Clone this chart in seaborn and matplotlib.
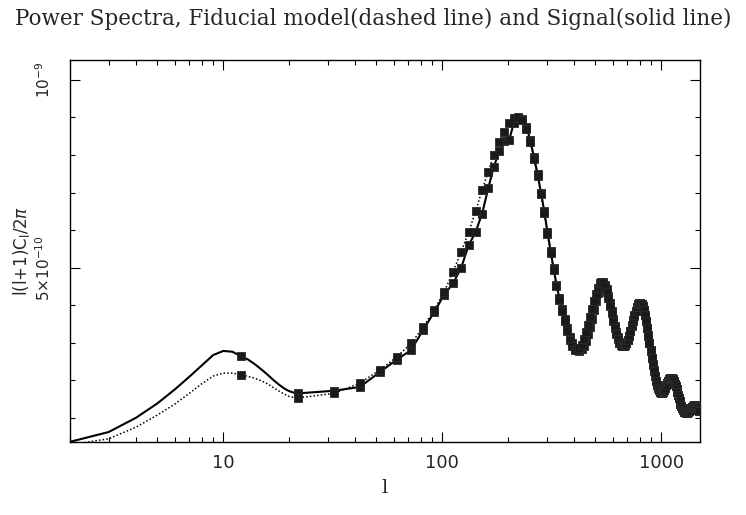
import numpy as np
import pandas as pd
import matplotlib
matplotlib.use("Agg")
import matplotlib.pyplot as plt
import seaborn as sns
from matplotlib.ticker import FixedLocator, FixedFormatter, NullFormatter

# ---- data (values in units of 1e-10) ----
ell_low = [2, 3, 4, 5, 6, 7, 8, 9, 10, 11, 12, 13, 14, 15, 16, 17, 18, 19, 20, 21]
signal_low = [0.36, 0.62, 1.00, 1.38, 1.75, 2.09, 2.40, 2.67, 2.78, 2.76,
              2.65, 2.55, 2.42, 2.28, 2.14, 2.00, 1.88, 1.78, 1.71, 1.67]
fiducial_low = [0.28, 0.44, 0.75, 1.07, 1.36, 1.65, 1.91, 2.11, 2.19, 2.19,
                2.15, 2.10, 2.05, 1.98, 1.90, 1.80, 1.71, 1.63, 1.57, 1.54]

ell_high = list(range(22, 1483, 10))
signal_high = [
    1.65, 1.72, 1.82, 2.22, 2.55, 2.80, 3.35, 3.82, 4.28, 4.58,
    5.00, 5.60, 5.95, 6.44, 7.11, 7.69, 8.10, 8.36, 8.40, 8.85,
    8.98, 8.95, 8.75, 8.40, 7.95, 7.50, 7.00, 6.50, 5.95, 5.45,
    4.98, 4.55, 4.20, 3.90, 3.62, 3.38, 3.15, 2.98, 2.86, 2.80,
    2.79, 2.83, 2.92, 3.05, 3.22, 3.42, 3.64, 3.87, 4.10, 4.32,
    4.50, 4.60, 4.62, 4.55, 4.42, 4.25, 4.05, 3.85, 3.64, 3.45,
    3.28, 3.14, 3.03, 2.96, 2.92, 2.91, 2.93, 2.99, 3.07, 3.18,
    3.30, 3.44, 3.58, 3.72, 3.84, 3.94, 4.01, 4.05, 4.06, 4.04,
    3.98, 3.88, 3.75, 3.58, 3.40, 3.20, 3.00, 2.80, 2.60, 2.42,
    2.26, 2.11, 1.99, 1.88, 1.80, 1.74, 1.70, 1.68, 1.67, 1.68,
    1.71, 1.75, 1.80, 1.86, 1.92, 1.98, 2.02, 2.05, 2.07, 2.07,
    2.05, 2.02, 1.97, 1.91, 1.84, 1.76, 1.68, 1.60, 1.52, 1.45,
    1.38, 1.32, 1.27, 1.22, 1.19, 1.16, 1.15, 1.14, 1.14, 1.15,
    1.16, 1.18, 1.20, 1.22, 1.25, 1.27, 1.29, 1.31, 1.32, 1.33,
    1.33, 1.32, 1.30, 1.28, 1.25, 1.22, 1.19]
fiducial_high = [
    1.53, 1.65, 1.92, 2.28, 2.62, 2.98, 3.42, 3.88, 4.35, 4.89,
    5.42, 5.95, 6.50, 7.07, 7.55, 8.00, 8.35, 8.62, 8.85, 8.98,
    9.00, 8.92, 8.70, 8.35, 7.90, 7.45, 6.95, 6.45, 5.90, 5.40,
    4.93, 4.50, 4.15, 3.85, 3.58, 3.32, 3.08, 2.90, 2.80, 2.80,
    2.85, 2.95, 3.10, 3.28, 3.48, 3.68, 3.90, 4.10, 4.30, 4.45,
    4.58, 4.62, 4.60, 4.50, 4.36, 4.18, 3.98, 3.78, 3.58, 3.40,
    3.23, 3.10, 3.00, 2.94, 2.91, 2.91, 2.94, 3.00, 3.08, 3.19,
    3.32, 3.46, 3.60, 3.73, 3.85, 3.95, 4.02, 4.06, 4.06, 4.03,
    3.97, 3.87, 3.74, 3.57, 3.39, 3.19, 2.99, 2.79, 2.59, 2.41,
    2.25, 2.10, 1.98, 1.87, 1.79, 1.73, 1.69, 1.67, 1.67, 1.68,
    1.71, 1.75, 1.80, 1.86, 1.92, 1.98, 2.02, 2.05, 2.07, 2.07,
    2.05, 2.02, 1.97, 1.91, 1.84, 1.76, 1.68, 1.60, 1.52, 1.45,
    1.38, 1.32, 1.27, 1.22, 1.19, 1.16, 1.15, 1.14, 1.14, 1.15,
    1.16, 1.18, 1.20, 1.22, 1.25, 1.27, 1.29, 1.31, 1.32, 1.33,
    1.33, 1.32, 1.30, 1.28, 1.25, 1.22, 1.19]
marker_from = 12  # markers start at l=12

x_tick_values = [10, 100, 1000]
x_tick_labels = ["10", "100", "1000"]
y_tick_values = [5e-10, 1e-9]
y_tick_labels = [r"$5{\times}10^{-10}$", r"$10^{-9}$"]
title_text = "Power Spectra, Fiducial model(dashed line) and Signal(solid line)"
unit = 1e-10

# ---- build tables ----
ell_all = ell_low + ell_high
df = pd.concat([
    pd.DataFrame({"ell": ell_all, "val": np.array(signal_low + signal_high) * unit, "series": "Signal"}),
    pd.DataFrame({"ell": ell_all, "val": np.array(fiducial_low + fiducial_high) * unit, "series": "Fiducial"}),
], ignore_index=True)
marks = df[(df["ell"] >= marker_from) & ((df["ell"] - 2) % 10 == 0)]

sns.set_style("ticks")
plt.rcParams["font.family"] = ["DejaVu Sans"]
plt.rcParams["mathtext.fontset"] = "dejavusans"

fig = plt.figure(figsize=(7.46, 5.15), dpi=100)
ax = fig.add_axes([70 / 746, 1 - 442 / 515, 630 / 746, 382 / 515])

sns.lineplot(data=df, x="ell", y="val", hue="series", style="series",
             palette={"Signal": "black", "Fiducial": "black"},
             dashes={"Signal": "", "Fiducial": (1, 1.4)},
             legend=False, ax=ax, estimator=None, sort=True, lw=1.5)
for ln in ax.get_lines():
    if ln.get_linestyle() != "-":
        ln.set_linewidth(1.1)

sns.scatterplot(data=marks, x="ell", y="val", color="#1a1a1a", marker="s", s=32,
                edgecolor="#2a2a2a", linewidth=0.6, legend=False, ax=ax, zorder=3)

ax.set_xscale("log")
ax.set_xlim(2, 1500)
ax.set_ylim(0.355e-10, 1.053e-9)

ax.xaxis.set_major_locator(FixedLocator(x_tick_values))
ax.xaxis.set_major_formatter(FixedFormatter(x_tick_labels))
ax.xaxis.set_minor_locator(matplotlib.ticker.LogLocator(base=10, subs=np.arange(2, 10)))
ax.xaxis.set_minor_formatter(NullFormatter())

ax.yaxis.set_major_locator(FixedLocator(y_tick_values))
ax.yaxis.set_major_formatter(FixedFormatter(y_tick_labels))
ax.yaxis.set_minor_locator(FixedLocator(np.arange(1, 11) * unit))

ax.tick_params(which="both", direction="in", top=True, right=True, width=0.8, color="black")
ax.tick_params(which="major", length=7)
ax.tick_params(which="minor", length=3.5)
ax.tick_params(axis="x", which="major", labelsize=13, pad=9)
ax.tick_params(axis="y", which="major", labelsize=11, pad=12)
for lbl in ax.get_yticklabels():
    lbl.set_rotation(90)
    lbl.set_va("center")
for s in ax.spines.values():
    s.set_linewidth(1.0)
    s.set_color("black")

ax.set_xlabel("l", fontsize=14, family="DejaVu Serif", labelpad=5)
ax.set_ylabel(r"l(l+1)C$_\mathrm{l}$/2$\pi$", fontsize=12, labelpad=2)

fig.text(0.5, 0.963, title_text, ha="center", va="center", fontsize=15.5, family="DejaVu Serif")

fig.savefig("out.png", dpi=100)
